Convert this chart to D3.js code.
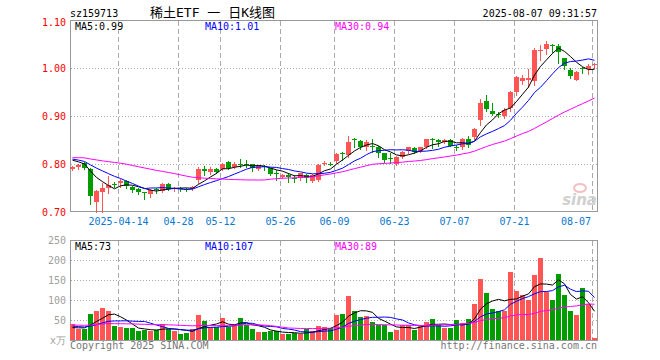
<!DOCTYPE html>
<html>
<head>
<meta charset="utf-8">
<script src="https://cdn.jsdelivr.net/npm/d3@7"></script>
<style>
body{margin:0;background:#fff;}
svg text{font-family:"DejaVu Sans Mono",monospace;font-size:10px;}
</style>
</head>
<body>
<svg id="kline" width="660" height="360"></svg>
<script>
"use strict";

// trading days shown (2025)
const days = ["04-01","04-02","04-03","04-07","04-08","04-09","04-10","04-11","04-14","04-15",
  "04-16","04-17","04-18","04-21","04-22","04-23","04-24","04-25","04-28","04-29",
  "04-30","05-06","05-07","05-08","05-09","05-12","05-13","05-14","05-15","05-16",
  "05-19","05-20","05-21","05-22","05-23","05-26","05-27","05-28","05-29","05-30",
  "06-03","06-04","06-05","06-06","06-09","06-10","06-11","06-12","06-13","06-16",
  "06-17","06-18","06-19","06-20","06-23","06-24","06-25","06-26","06-27","06-30",
  "07-01","07-02","07-03","07-04","07-07","07-08","07-09","07-10","07-11","07-14",
  "07-15","07-16","07-17","07-18","07-21","07-22","07-23","07-24","07-25","07-28",
  "07-29","07-30","07-31","08-01","08-04","08-05","08-06","08-07"];

const open = [.790,.793,.803,.790,.720,.742,.750,.759,.760,.764,
  .753,.747,.741,.737,.747,.744,.758,.747,.749,.748,
  .749,.766,.790,.784,.789,.789,.804,.794,.801,.800,
  .799,.790,.796,.791,.781,.772,.777,.771,.770,.777,
  .765,.767,.800,.800,.806,.823,.819,.852,.847,.836,
  .838,.836,.822,.813,.800,.815,.828,.833,.828,.836,
  .853,.851,.846,.849,.836,.835,.852,.856,.892,.931,
  .911,.905,.899,.916,.951,.972,.974,.972,1.036,1.039,
  1.047,1.046,1.020,.996,.976,1.000,.997,1.006];
const high = [.796,.800,.804,.791,.745,.760,.774,.763,.768,.767,
  .755,.749,.742,.747,.750,.760,.760,.752,.752,.751,
  .755,.793,.795,.793,.791,.803,.806,.805,.810,.808,
  .800,.798,.798,.792,.788,.780,.781,.777,.782,.779,
  .779,.800,.807,.805,.823,.825,.858,.854,.850,.849,
  .852,.838,.823,.823,.816,.827,.836,.836,.836,.853,
  .854,.853,.852,.853,.840,.855,.858,.875,.935,.944,
  .927,.908,.916,.952,.984,.985,.997,1.042,1.048,1.056,
  1.050,1.049,1.020,1.000,.994,1.003,1.008,1.011];
const low = [.787,.790,.789,.717,.701,.701,.740,.752,.753,.751,
  .741,.738,.728,.732,.739,.741,.746,.744,.744,.744,
  .746,.760,.777,.779,.782,.787,.789,.792,.793,.793,
  .786,.788,.788,.777,.767,.770,.762,.762,.767,.763,
  .762,.765,.797,.797,.803,.808,.815,.835,.832,.830,
  .826,.815,.805,.802,.798,.813,.822,.822,.824,.834,
  .834,.838,.843,.837,.829,.832,.836,.853,.881,.910,
  .902,.897,.896,.910,.944,.966,.961,.965,1.016,1.030,
  1.034,1.010,.998,.979,.975,.990,.987,1.001];
const close = [.794,.797,.791,.734,.744,.750,.757,.757,.764,.755,
  .746,.741,.740,.746,.745,.758,.748,.750,.748,.747,
  .753,.790,.786,.789,.784,.801,.791,.801,.799,.798,
  .791,.796,.794,.779,.779,.777,.772,.770,.781,.771,
  .777,.798,.803,.799,.820,.822,.846,.849,.835,.846,
  .837,.823,.808,.812,.815,.826,.835,.826,.835,.852,
  .852,.846,.850,.838,.835,.852,.840,.873,.928,.914,
  .904,.904,.912,.949,.982,.979,.979,1.038,1.038,1.051,
  1.046,1.034,1.004,.984,.992,.999,1.004,1.008];
// volume, x10k
const volume = [39,28,27,65,72,80,72,35,32,30,
  30,22,25,22,26,40,27,22,15,17,
  27,62,47,32,32,55,32,39,55,37,
  27,20,20,22,22,15,15,17,15,27,
  22,35,32,29,62,64,111,72,57,60,
  45,37,37,20,25,37,37,25,37,45,
  52,37,29,30,50,42,52,90,152,117,
  77,72,72,170,122,112,100,162,205,120,
  100,165,112,72,62,130,90,5];

// closes / volumes of the 29 sessions before 04-01, read back from where the MA lines start
const priorClose = [.798,.802,.806,.801,.809,.806,.806,.812,.818,.825,
  .821,.816,.824,.819,.822,.814,.820,.828,.826,.821,
  .818,.819,.806,.811,.808,.815,.812,.809,.810];
const priorVolume = [42,36,45,38,33,40,47,35,39,31,
  44,37,41,34,36,43,38,35,40,41,
  44,36,41,38,36,31,27,30,28];

const tickDays = ["04-14","04-28","05-12","05-26","06-09","06-23","07-07","07-21","08-07"];
const tickText = ["2025-04-14","04-28","05-12","05-26","06-09","06-23","07-07","07-21","08-07"];
const priceTicks = [1.10,1.00,0.90,0.80,0.70];
const volTicks = [250,200,150,100,50];
const maPeriods = [5,10,30];
const maColors = ["#000000","#0000ff","#ff00ff"];
const priceMaText = ["MA5:0.99","MA10:1.01","MA30:0.94"];
const volMaText = ["MA5:73","MA10:107","MA30:89"];

const RED = "#ff5555";
const GREEN = "#009c00";
const GRID = "#aaaaaa";

const svg = d3.select('#kline');

const x = d3.scaleBand().domain(days).range([70, 598]);
const yP = d3.scaleLinear().domain([0.70, 1.10]).range([212, 20]);
const yV = d3.scaleLinear().domain([0, 250]).range([340, 240]);
const cx = d => x(d) + 2.5;

function movingAvg(values, prior, n){
	const all = prior.concat(values);
	return values.map((v, i) => {
		const j = prior.length + i;
		return d3.mean(all.slice(j - n + 1, j + 1));
	});
}

// header
svg.append('text').attr('x', 70).attr('y', 16.5).text('sz159713');
svg.append('text').attr('x', 150).attr('y', 16.5)
	.style('font-size', '13px')
	.style('font-family', '"DejaVu Sans Mono","Noto Sans CJK SC",monospace')
	.text('稀土ETF 一 日K线图');
svg.append('text').attr('x', 597).attr('y', 16.5).attr('text-anchor', 'end')
	.text('2025-08-07 09:31:57');

// panels
function panelFrame(top, bottom, gridVals, yScale){
	const g = svg.append('g').attr('shape-rendering', 'crispEdges');
	g.selectAll('line.h')
		.data(gridVals)
		.join('line')
		.attr('class', 'h')
		.attr('x1', 71).attr('x2', 597)
		.attr('y1', d => Math.round(yScale(d)) + 0.5)
		.attr('y2', d => Math.round(yScale(d)) + 0.5)
		.attr('stroke', GRID)
		.attr('stroke-dasharray', '1,2');
	g.selectAll('line.v')
		.data(tickDays)
		.join('line')
		.attr('class', 'v')
		.attr('x1', d => x(d) + 0.5).attr('x2', d => x(d) + 0.5)
		.attr('y1', top + 1).attr('y2', bottom)
		.attr('stroke', GRID)
		.attr('stroke-dasharray', '5,3');
	g.append('rect')
		.attr('x', 70.5).attr('y', top + 0.5)
		.attr('width', 527).attr('height', bottom - top)
		.attr('fill', 'none')
		.attr('stroke', '#999');
}
panelFrame(20, 211, [1.00, 0.90, 0.80], yP);
panelFrame(240, 340, [200, 150, 100, 50], yV);

// sina watermark
svg.append('ellipse').attr('cx', 580).attr('cy', 188).attr('rx', 6).attr('ry', 4)
	.attr('fill', 'none').attr('stroke', '#f3c0c0').attr('stroke-width', 2);
svg.append('text').attr('x', 597).attr('y', 205).attr('text-anchor', 'end')
	.style('font', 'italic bold 15px "DejaVu Sans"')
	.attr('fill', '#d0d0d0')
	.text('sina');

// axis labels
svg.selectAll('text.py')
	.data(priceTicks)
	.join('text')
	.attr('class', 'py')
	.attr('x', 66)
	.attr('y', d => Math.max(yP(d) + 3.5, 25.5))
	.attr('text-anchor', 'end')
	.attr('fill', '#ff0000')
	.text(d => d.toFixed(2));

svg.selectAll('text.vy')
	.data(volTicks)
	.join('text')
	.attr('class', 'vy')
	.attr('x', 66)
	.attr('y', d => yV(d) + 3.5)
	.attr('text-anchor', 'end')
	.attr('fill', '#a0a0a0')
	.text(d => d);
svg.append('text').attr('x', 66).attr('y', 344).attr('text-anchor', 'end')
	.attr('fill', '#a0a0a0').text('x万');

svg.selectAll('text.xt')
	.data(tickDays)
	.join('text')
	.attr('class', 'xt')
	.attr('x', (d, i) => i === tickDays.length - 1 ? 591 : x(d) + 0.5)
	.attr('y', 225)
	.attr('text-anchor', (d, i) => i === tickDays.length - 1 ? 'end' : 'middle')
	.attr('fill', '#0a78d2')
	.text((d, i) => tickText[i]);

// candles
const rows = days.map((d, i) => ({d: d, o: open[i], h: high[i], l: low[i], c: close[i], v: volume[i]}));
const colorOf = r => r.c >= r.o ? RED : GREEN;

const gCandle = svg.append('g').attr('shape-rendering', 'crispEdges');
gCandle.selectAll('line')
	.data(rows)
	.join('line')
	.attr('x1', r => cx(r.d)).attr('x2', r => cx(r.d))
	.attr('y1', r => Math.round(yP(r.h)))
	.attr('y2', r => Math.round(yP(r.l)) + 1)
	.attr('stroke', colorOf);
gCandle.selectAll('rect')
	.data(rows)
	.join('rect')
	.attr('x', r => x(r.d))
	.attr('width', 5)
	.attr('y', r => Math.round(yP(Math.max(r.o, r.c))))
	.attr('height', r => Math.max(1, Math.round(yP(Math.min(r.o, r.c))) - Math.round(yP(Math.max(r.o, r.c)))))
	.attr('fill', colorOf);

// volume bars
svg.append('g').attr('shape-rendering', 'crispEdges')
	.selectAll('rect')
	.data(rows)
	.join('rect')
	.attr('x', r => x(r.d))
	.attr('width', 5)
	.attr('y', r => Math.round(yV(r.v)))
	.attr('height', r => 340 - Math.round(yV(r.v)))
	.attr('fill', colorOf);

// moving averages
maPeriods.forEach((n, k) => {
	const pMa = movingAvg(close, priorClose, n);
	const vMa = movingAvg(volume, priorVolume, n);
	svg.append('path')
		.datum(pMa)
		.attr('d', d3.line().x((v, i) => cx(days[i])).y(v => yP(v)))
		.attr('fill', 'none')
		.attr('stroke', maColors[k])
		.attr('stroke-width', 1);
	svg.append('path')
		.datum(vMa)
		.attr('d', d3.line().x((v, i) => cx(days[i])).y(v => yV(v)))
		.attr('fill', 'none')
		.attr('stroke', maColors[k])
		.attr('stroke-width', 1);
	svg.append('text').attr('x', 75 + k * 130).attr('y', 30)
		.attr('fill', maColors[k]).text(priceMaText[k]);
	svg.append('text').attr('x', 75 + k * 130).attr('y', 250)
		.attr('fill', maColors[k]).text(volMaText[k]);
});

// footer
svg.append('text').attr('x', 70).attr('y', 349).attr('fill', '#777').text('Copyright 2025 SINA.COM');
svg.append('text').attr('x', 597).attr('y', 349).attr('text-anchor', 'end')
	.attr('fill', '#777').text('http://finance.sina.com.cn');
</script>
</body>
</html>
